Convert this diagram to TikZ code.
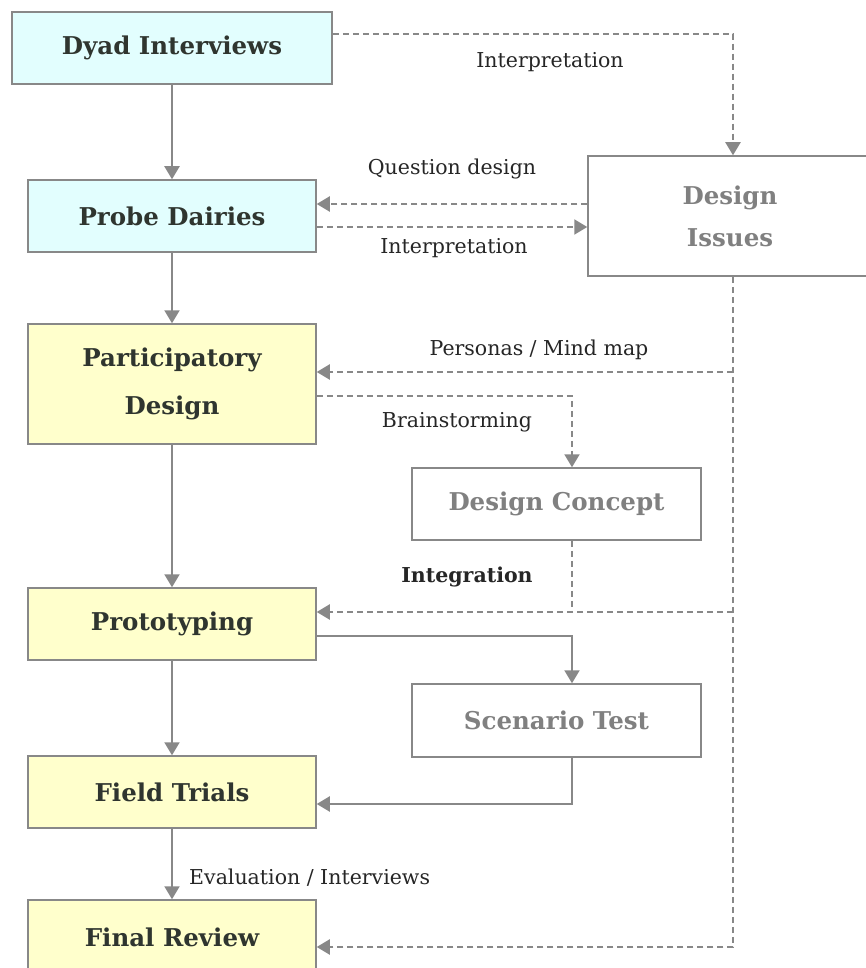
\documentclass[tikz,border=0pt]{standalone}
\usepackage{fontspec}
\setmainfont{DejaVu Serif}
\usetikzlibrary{arrows.meta,calc}
\definecolor{lgray}{HTML}{888888}
\definecolor{cyanf}{HTML}{E2FEFE}
\definecolor{yelf}{HTML}{FFFFCC}
\definecolor{txt}{HTML}{2F352F}
\definecolor{gtxt}{HTML}{808080}
\definecolor{ltxt}{HTML}{262626}
\begin{document}
\begin{tikzpicture}[x=1pt,y=-1pt,
  mainbox/.style={draw=lgray, line width=1.5pt, inner sep=0pt, text=txt, align=center,
    font=\bfseries\fontsize{24.5}{48}\selectfont},
  graybox/.style={draw=lgray, line width=1.5pt, inner sep=0pt, fill=white, text=gtxt, align=center,
    font=\bfseries\fontsize{24.5}{42}\selectfont},
  sline/.style={draw=lgray, line width=2pt, -{Triangle[width=15pt,length=13pt]}},
  dline/.style={draw=lgray, line width=2pt, dash pattern=on 6pt off 4pt},
  darrow/.style={dline, -{Triangle[width=15pt,length=13pt]}},
  lbl/.style={text=ltxt, inner sep=0pt, font=\fontsize{20.5}{24}\selectfont},
]
\useasboundingbox (0,0) rectangle (866,968);
\clip (0,0) rectangle (866,968);
\fill[white] (0,0) rectangle (866,968);

\coordinate (colx) at (733,0);
\coordinate (midx) at (572,0);

\node[mainbox, fill=cyanf, minimum width=320pt, minimum height=72pt] (dyad) at (172,48) {Dyad Interviews};
\node[mainbox, fill=cyanf, minimum width=288pt, minimum height=72pt] (probe) at (172,216) {Probe Dairies};
\node[mainbox, fill=yelf, minimum width=288pt, minimum height=120pt] (pd) at (172,384) {Participatory\\Design};
\node[mainbox, fill=yelf, minimum width=288pt, minimum height=72pt] (proto) at (172,624) {Prototyping};
\node[mainbox, fill=yelf, minimum width=288pt, minimum height=72pt] (field) at (172,792) {Field Trials};
\node[mainbox, fill=yelf, minimum width=288pt, minimum height=74pt] (final) at (172,937) {Final Review};

\node[graybox, minimum width=284pt, minimum height=120pt] (issues) at (730,216) {Design\\Issues};
\node[graybox, minimum width=289pt, minimum height=72pt] (concept) at (556.5,504) {Design Concept};
\node[graybox, minimum width=289pt, minimum height=73pt] (scen) at (556.5,720.5) {Scenario Test};

% solid main flow
\draw[sline] (dyad) -- (probe);
\draw[sline] (probe) -- (pd);
\draw[sline] (pd) -- (proto);
\draw[sline] (proto) -- (field);
\draw[sline] (field) -- (final);

% dashed feedback
\draw[darrow] ([yshift=14pt]dyad.east) -| (issues.north -| colx);
\draw[darrow] ([yshift=12pt]issues.west) -- ([yshift=12pt]probe.east);
\draw[darrow] ([yshift=-11pt]probe.east) -- ([yshift=-11pt]issues.west);
\draw[darrow] (issues.south -| colx) |- ([yshift=-10pt]final.east);
\draw[darrow] ([yshift=12pt]pd.east -| colx) -- ([yshift=12pt]pd.east);
\draw[darrow] ([yshift=12pt]proto.east -| colx) -- ([yshift=12pt]proto.east);
\draw[darrow] ([yshift=-12pt]pd.east) -| (concept.north -| midx);
\draw[dline] (concept.south -| midx) -- ([yshift=12pt]proto.east -| midx);

% solid side loop
\draw[sline] ([yshift=-12pt]proto.east) -| (scen.north -| midx);
\draw[sline] (scen.south -| midx) |- ([yshift=-12pt]field.east);

% labels
\node[lbl] (l1) at (550,62) {Interpretation};
\node[lbl] (l2) at (452,169) {Question design};
\node[lbl] (l3) at (454,248) {Interpretation};
\node[lbl] (l4) at (539,350) {Personas / Mind map};
\node[lbl] (l5) at (457,422) {Brainstorming};
\node[lbl, font=\bfseries\fontsize{20.5}{24}\selectfont] (l6) at (467,577) {Integration};
\node[lbl, anchor=west] (l7) at (189,878) {Evaluation / Interviews};
\end{tikzpicture}
\end{document}
